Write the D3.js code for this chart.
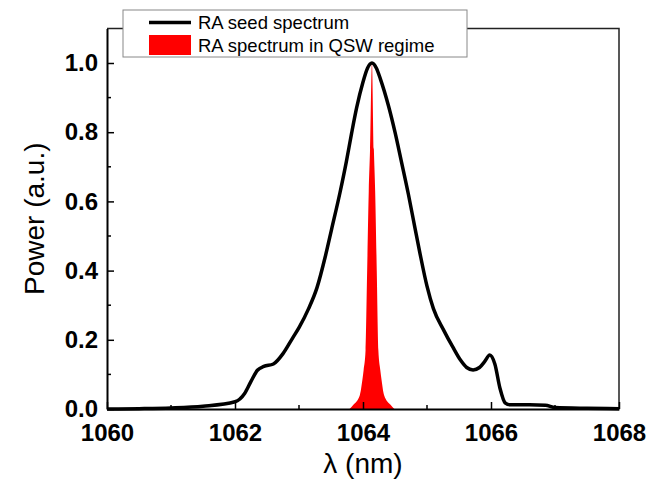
<!DOCTYPE html>
<html><head><meta charset="utf-8">
<script src="https://cdn.jsdelivr.net/npm/d3@7"></script>
<style>body{margin:0;background:#fff}svg{display:block}</style>
</head><body><svg id="c" width="648" height="486"></svg>
<script>
const seriesNames = ["RA seed spectrum", "RA spectrum in QSW regime"];
const seedX = [1060.0,1060.5,1061.0,1061.5,1062.0,1062.15,1062.25,1062.35,1062.45,1062.6,1062.75,1062.9,1063.0,1063.15,1063.28,1063.41,1063.51,1063.64,1063.74,1063.82,1063.9,1064.0,1064.07,1064.14,1064.21,1064.27,1064.4,1064.5,1064.6,1064.71,1064.81,1064.89,1065.0,1065.1,1065.26,1065.4,1065.52,1065.62,1065.72,1065.82,1065.9,1065.98,1066.06,1066.14,1066.22,1066.3,1066.6,1066.85,1067.0,1067.5,1068.0];
const seedY = [0.000,0.001,0.003,0.008,0.021,0.045,0.08,0.112,0.123,0.13,0.16,0.205,0.235,0.29,0.35,0.44,0.52,0.625,0.715,0.795,0.87,0.945,0.985,1.0,0.985,0.955,0.875,0.80,0.715,0.62,0.525,0.45,0.355,0.29,0.228,0.18,0.142,0.12,0.113,0.12,0.137,0.156,0.13,0.06,0.018,0.012,0.012,0.011,0.004,0.002,0.001];
const qswX = [1063.79,1063.85,1063.95,1063.99,1064.01,1064.04,1064.065,1064.09,1064.11,1064.14,1064.17,1064.19,1064.215,1064.24,1064.27,1064.29,1064.33,1064.43,1064.49];
const qswY = [0,0.012,0.04,0.084,0.113,0.17,0.4,0.63,0.75,1.0,0.75,0.63,0.4,0.17,0.113,0.084,0.04,0.012,0];
const xTicks = [1060,1062,1064,1066,1068];
const xMinor = [1061,1063,1065,1067];
const yTicks = [0.0,0.2,0.4,0.6,0.8,1.0];
const yMinor = [0.1,0.3,0.5,0.7,0.9];
const xTitle = "λ (nm)";
const yTitle = "Power (a.u.)";

const svg = d3.select("#c");
const L=107, R=619, T=28.4, B=409;
const x = d3.scaleLinear().domain([1060,1068]).range([L,R]);
const y = d3.scaleLinear().domain([0,1.1]).range([B,T]);
const font = "'Liberation Sans', Arial, sans-serif";

svg.append("path").attr("d",`M${L},${T}H${R}V${B}`).attr("fill","none").attr("stroke","#222").attr("stroke-width",1.5);

const seed = seedX.map((v,i)=>[v,seedY[i]]);
const qsw = qswX.map((v,i)=>[v,qswY[i]]);

svg.append("path").datum(qsw)
  .attr("d", d3.area().x(d=>x(d[0])).y0(y(0)).y1(d=>y(d[1])).curve(d3.curveMonotoneX))
  .attr("fill","#ff0000");
svg.append("path").datum(seed)
  .attr("d", d3.line().x(d=>x(d[0])).y(d=>y(d[1])).curve(d3.curveMonotoneX))
  .attr("fill","none").attr("stroke","#000").attr("stroke-width",3.5).attr("stroke-linejoin","round");

const xAxis = svg.append("g").attr("transform",`translate(0,${B})`)
  .call(d3.axisBottom(x).tickValues(xTicks).tickFormat(d3.format("d")).tickSizeInner(-7).tickSizeOuter(0).tickPadding(15));
xAxis.selectAll(".tick line").attr("stroke-width",1.5);
xAxis.append("g").selectAll("line").data(xMinor).join("line")
  .attr("x1",d=>x(d)).attr("x2",d=>x(d)).attr("y1",0).attr("y2",-4).attr("stroke","#000").attr("stroke-width",1.5);
xAxis.select(".domain").attr("stroke-width",2);
xAxis.selectAll("text").attr("font-family",font).attr("font-size",24).attr("font-weight","bold").attr("fill","#000");

const yAxis = svg.append("g").attr("transform",`translate(${L},0)`)
  .call(d3.axisLeft(y).tickValues(yTicks).tickFormat(d3.format(".1f")).tickSizeInner(-7).tickSizeOuter(0).tickPadding(9));
yAxis.selectAll(".tick line").attr("stroke-width",1.5);
yAxis.append("g").selectAll("line").data(yMinor).join("line")
  .attr("y1",d=>y(d)).attr("y2",d=>y(d)).attr("x1",0).attr("x2",4).attr("stroke","#000").attr("stroke-width",1.5);
yAxis.select(".domain").attr("stroke-width",2);
yAxis.selectAll("text").attr("font-family",font).attr("font-size",24).attr("font-weight","bold").attr("fill","#000");

svg.append("text").attr("x",363).attr("y",473).attr("text-anchor","middle")
  .attr("font-family",font).attr("font-size",28).text(xTitle);
svg.append("text").attr("transform",`translate(44,${(T+B)/2}) rotate(-90)`).attr("text-anchor","middle")
  .attr("font-family",font).attr("font-size",28).text(yTitle);

const lg = svg.append("g");
lg.append("rect").attr("x",123).attr("y",10).attr("width",344).attr("height",47)
  .attr("fill","#fff").attr("stroke","#888").attr("stroke-width",1);
lg.append("line").attr("x1",149).attr("x2",191).attr("y1",22.5).attr("y2",22.5).attr("stroke","#000").attr("stroke-width",3.5);
lg.append("rect").attr("x",149).attr("y",35).attr("width",42).attr("height",20).attr("fill","#ff0000");
lg.selectAll("text.l").data(seriesNames).join("text").attr("class","l")
  .attr("x",198).attr("y",(d,i)=>28.5+i*23.5).attr("font-family",font).attr("font-size",18.5).attr("fill","#000").text(d=>d);
</script></body></html>
